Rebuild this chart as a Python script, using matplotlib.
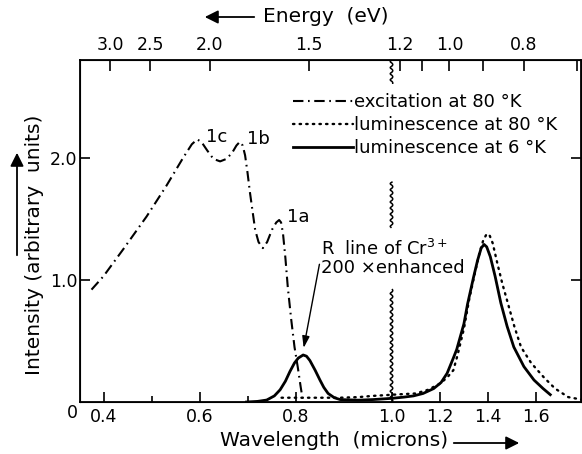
import numpy as np
import matplotlib
matplotlib.use("Agg")
import matplotlib.pyplot as plt

plt.rcParams['font.family'] = ['DejaVu Sans']

# ---------------- data ----------------
exc_wl = [0.374, 0.399, 0.44, 0.489, 0.53, 0.565, 0.583, 0.594, 0.603, 0.615, 0.628,
          0.642, 0.655, 0.667, 0.676, 0.683, 0.689, 0.694, 0.699, 0.704, 0.71, 0.715,
          0.722, 0.731, 0.74, 0.75, 0.759, 0.765, 0.769, 0.773, 0.778, 0.783, 0.79,
          0.797, 0.804, 0.81, 0.815]
exc_int = [0.92, 1.03, 1.25, 1.52, 1.77, 2.00, 2.11, 2.15, 2.13, 2.06, 1.99,
           1.97, 1.99, 2.04, 2.10, 2.13, 2.10, 2.02, 1.88, 1.72, 1.55, 1.41,
           1.31, 1.26, 1.31, 1.41, 1.47, 1.49, 1.47, 1.38, 1.18, 0.94, 0.68,
           0.45, 0.28, 0.12, 0.0]

lum80_wl = [0.77, 0.80, 0.83, 0.856, 0.89, 0.93, 0.96, 0.99, 1.05, 1.10, 1.15, 1.20,
            1.23, 1.256, 1.273, 1.30, 1.322, 1.345, 1.365, 1.38, 1.395, 1.408, 1.42,
            1.44, 1.46, 1.483, 1.51, 1.538, 1.58, 1.634, 1.68, 1.735, 1.79]
lum80_int = [0.035, 0.035, 0.035, 0.035, 0.035, 0.04, 0.05, 0.057, 0.065, 0.07, 0.10, 0.15,
             0.20, 0.26, 0.38, 0.60, 0.84, 1.05, 1.22, 1.32, 1.377, 1.36, 1.30,
             1.13, 0.97, 0.81, 0.62, 0.45, 0.32, 0.20, 0.11, 0.04, 0.02]

lum6_wl = [0.697, 0.72, 0.739, 0.755, 0.767, 0.778, 0.7875, 0.797, 0.805, 0.815, 0.822,
           0.829, 0.84, 0.85, 0.858, 0.867, 0.88, 0.892, 0.93, 0.961, 1.0, 1.05, 1.09,
           1.13, 1.174, 1.205, 1.23, 1.256, 1.27, 1.30, 1.315, 1.34, 1.357, 1.372,
           1.384, 1.395, 1.41, 1.43, 1.454, 1.48, 1.508, 1.55, 1.592, 1.63, 1.66]
lum6_int = [0.0, 0.005, 0.016, 0.05, 0.10, 0.17, 0.25, 0.32, 0.36, 0.385, 0.375,
            0.34, 0.26, 0.18, 0.12, 0.07, 0.035, 0.02, 0.015, 0.02, 0.03, 0.04, 0.05,
            0.07, 0.11, 0.16, 0.235, 0.36, 0.43, 0.64, 0.80, 1.02, 1.16, 1.26,
            1.29, 1.27, 1.19, 1.03, 0.81, 0.62, 0.45, 0.29, 0.18, 0.11, 0.06]

wl_ticks = [0.4, 0.6, 0.8, 1.0, 1.2, 1.4, 1.6]
wl_labels = ["0.4", "0.6", "0.8", "1.0", "1.2", "1.4", "1.6"]
wl_minor = [0.5, 0.7]
energy_ticks = [3.0, 2.5, 2.0, 1.5, 1.2, 1.1, 1.0, 0.9, 0.8, 0.7]
energy_labels = ["3.0", "2.5", "2.0", "1.5", "1.2", "", "1.0", "", "0.8", ""]
int_ticks = [1.0, 2.0]
int_labels = ["1.0", "2.0"]
peak_labels = ["1c", "1b", "1a"]
peak_pos = [(0.598, 2.15), (0.683, 2.13), (0.767, 1.49)]

# ---------------- scale: compressed beyond 1.0 micron ----------------
def fwd(x):
    x = np.asarray(x, dtype=float)
    return np.where(x <= 1.0, x, 1.0 + (x - 1.0) / 2.0)

def inv(u):
    u = np.asarray(u, dtype=float)
    return np.where(u <= 1.0, u, 1.0 + (u - 1.0) * 2.0)

W, H = 582, 454
fig = plt.figure(figsize=(W / 100, H / 100), dpi=100)
ax = fig.add_axes([80 / W, 1 - 402 / H, 501 / W, 342 / H])
ax.set_xscale('function', functions=(fwd, inv))
xmin, xmax = 0.35, 1.788
ax.set_xlim(xmin, xmax)
ax.set_ylim(0, 2.80)

ax.plot(exc_wl, exc_int, color='black', lw=1.5, linestyle=(0, (5, 2.2, 0.8, 2.2)),
        label='excitation at 80 °K')
ax.plot(lum80_wl, lum80_int, color='black', lw=1.7, linestyle=(0, (0.6, 2.2)),
        dash_capstyle='round', label='luminescence at 80 °K')
ax.plot(lum6_wl, lum6_int, color='black', lw=2.0, linestyle='-',
        label='luminescence at 6 °K')

# wavy break line at 1.0 micron
for y0, y1 in [(2.61, 2.80), (1.43, 1.80), (0.0, 0.92)]:
    yy = np.linspace(y0, y1, 400)
    xx = 1.0 + 0.0035 * np.sin(2 * np.pi * yy / 0.05)
    ax.plot(xx, yy, color='black', lw=1.1)

# spines & ticks
for s in ax.spines.values():
    s.set_linewidth(1.3)
ax.set_xticks(wl_ticks)
ax.set_xticklabels(wl_labels)
ax.set_xticks(wl_minor, minor=True)
ax.set_yticks(int_ticks)
ax.set_yticklabels(int_labels)
ax.tick_params(axis='both', which='major', direction='in', length=7.5, width=1.2,
               labelsize=12.5, right=True, pad=3)
ax.tick_params(axis='x', which='minor', direction='in', length=4, width=1.2)
ax.tick_params(axis='y', which='major', pad=2)
ax.tick_params(axis='x', which='major', pad=4)

ax2 = ax.twiny()
ax2.set_xscale('function', functions=(fwd, inv))
ax2.set_xlim(xmin, xmax)
ax2.set_xticks([1.2398 / e for e in energy_ticks])
ax2.set_xticklabels(energy_labels)
ax2.tick_params(axis='x', direction='in', length=8, width=1.2, labelsize=12.5, pad=4)
ax2.xaxis.set_minor_locator(matplotlib.ticker.NullLocator())

# legend
ax.legend(loc='upper left', bbox_to_anchor=(0.425, 0.904), frameon=False,
          fontsize=13, handlelength=3.3, handletextpad=0.1, labelspacing=0.28,
          borderaxespad=0, borderpad=0)

# peak labels
for lab, (px, py) in zip(peak_labels, peak_pos):
    ax.annotate(lab, xy=(px, py), xytext=(5, 2), textcoords='offset points',
                fontsize=13, ha='left', va='center')

# R-line annotation
ax.text(0.852, 1.18, "R  line of Cr$^{3+}$\n200 ×enhanced", fontsize=13,
        ha='left', va='center', linespacing=1.0)
ax.annotate('', xy=(0.815, 0.42), xytext=(0.85, 1.15),
            arrowprops=dict(arrowstyle='-|>,head_length=0.7,head_width=0.22',
                            color='black', lw=1.0))

# axis titles with arrows
fig.text(72 / W, 1 - 413 / H, "0", fontsize=12.5, ha='center', va='center')
fig.text(334 / W, 1 - 440 / H, "Wavelength  (microns)", fontsize=14.5,
         ha='center', va='center')
fig.add_artist(matplotlib.patches.FancyArrowPatch(
    (451 / W, 1 - 443 / H), (522 / W, 1 - 443 / H), transform=fig.transFigure,
    arrowstyle='-|>,head_length=8,head_width=4', color='black', lw=1.3,
    mutation_scale=1))
fig.text(326 / W, 1 - 17 / H, "Energy  (eV)", fontsize=14.5, ha='center', va='center')
fig.add_artist(matplotlib.patches.FancyArrowPatch(
    (257 / W, 1 - 17 / H), (202 / W, 1 - 17 / H), transform=fig.transFigure,
    arrowstyle='-|>,head_length=8,head_width=4', color='black', lw=1.3,
    mutation_scale=1))
fig.text(35 / W, 1 - 245 / H, "Intensity (arbitrary  units)", fontsize=14.5,
         ha='center', va='center', rotation=90)
fig.add_artist(matplotlib.patches.FancyArrowPatch(
    (17 / W, 1 - 258 / H), (17 / W, 1 - 150 / H), transform=fig.transFigure,
    arrowstyle='-|>,head_length=8,head_width=4', color='black', lw=1.3,
    mutation_scale=1))

fig.savefig("out.png", dpi=100, facecolor='white')
